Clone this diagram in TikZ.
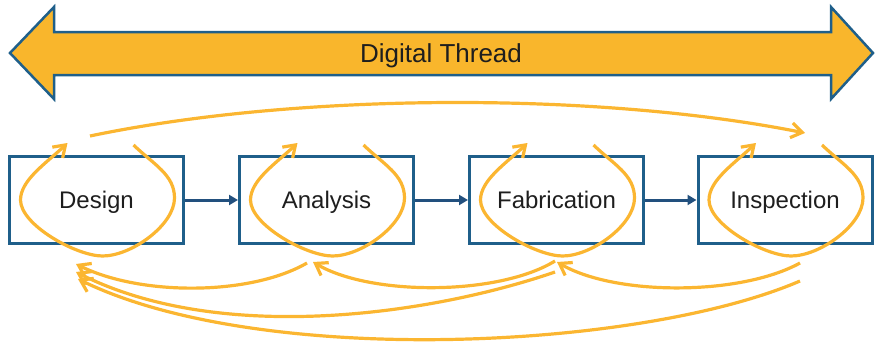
\documentclass[tikz,border=0pt]{standalone}
\usepackage{fontspec}
\setmainfont{Liberation Sans}
\usetikzlibrary{arrows.meta}
\definecolor{threadgold}{HTML}{F9B62C}
\definecolor{linegold}{HTML}{FBB631}
\definecolor{frameblue}{HTML}{1F5F8A}
\definecolor{flowblue}{HTML}{22507E}
\definecolor{ink}{HTML}{1E1E1E}
\begin{document}
\begin{tikzpicture}[x=1pt,y=-1pt,
  stage/.style={draw=frameblue, line width=3pt, fill=white,
    minimum width=174pt, minimum height=87pt, inner sep=0pt,
    text height=17pt, text depth=0pt,
    font=\fontsize{24}{28}\selectfont, text=ink},
  flow/.style={draw=flowblue, line width=3pt,
    -{Triangle[length=9pt,width=10pt]}},
  goldline/.style={draw=linegold, line width=3.2pt,
    -{Straight Barb[length=11pt,width=15pt]}},
  iterloop/.pic={\draw[goldline] (37,-55)
      .. controls (58,-35) and (78,-25) .. (78,-2)
      .. controls (78,25) and (35,56) .. (6,56)
      .. controls (-20,56) and (-76,25) .. (-76,0)
      .. controls (-76,-20) and (-50,-37) .. (-29,-57);}
]
\useasboundingbox (0,0) rectangle (876,343);

% double-headed thread arrow
\draw[draw=frameblue, line width=2.5pt, fill=threadgold, line join=miter]
  (10,53) -- (54,7) -- (54,32) -- (831,32) -- (831,7) -- (873,53)
  -- (831,99) -- (831,75) -- (54,75) -- (54,99) -- cycle;
\node[font=\fontsize{26}{30}\selectfont, text=ink, inner sep=0pt,
  text height=18.6pt, text depth=0pt] (thread) at (441,53) {Digital Thread};

% process stages
\node[stage] (design)      at (96.5,200) {Design};
\node[stage] (analysis)    at (326.5,200) {Analysis};
\node[stage] (fabrication) at (556.5,200) {Fabrication};
\node[stage] (inspection)  at (785,200) {Inspection};

\draw[flow] (design) -- (analysis);
\draw[flow] (analysis) -- (fabrication);
\draw[flow] (fabrication) -- (inspection);

% local iteration inside each stage
\pic at (design.center) {iterloop};
\pic at (analysis.center) {iterloop};
\pic at (fabrication.center) {iterloop};
\pic at (inspection.center) {iterloop};

% forward feed from design to inspection
\coordinate (topstart) at (90,136);
\coordinate (topend) at (805,133);
\draw[goldline] (topstart) .. controls (300,92) and (600,92) .. (topend);

% feedback paths
\coordinate (a-out) at (307,263);
\coordinate (d-in1) at (76,264);
\coordinate (f-out1) at (555,261);
\coordinate (a-in) at (313,262);
\coordinate (i-out1) at (800,263);
\coordinate (f-in) at (557,262);
\coordinate (f-out2) at (555,272);
\coordinate (d-in2) at (76,272);
\coordinate (i-out2) at (800,281);
\coordinate (d-in3) at (78,279);

\draw[goldline] (a-out) .. controls (250,296) and (140,296) .. (d-in1);
\draw[goldline] (f-out1) .. controls (498,296) and (370,296) .. (a-in);
\draw[goldline] (i-out1) .. controls (740,296) and (615,296) .. (f-in);
\draw[goldline] (f-out2) .. controls (430,315) and (220,345) .. (d-in2);
\draw[goldline] (i-out2) .. controls (640,350) and (260,368) .. (d-in3);
\end{tikzpicture}
\end{document}
